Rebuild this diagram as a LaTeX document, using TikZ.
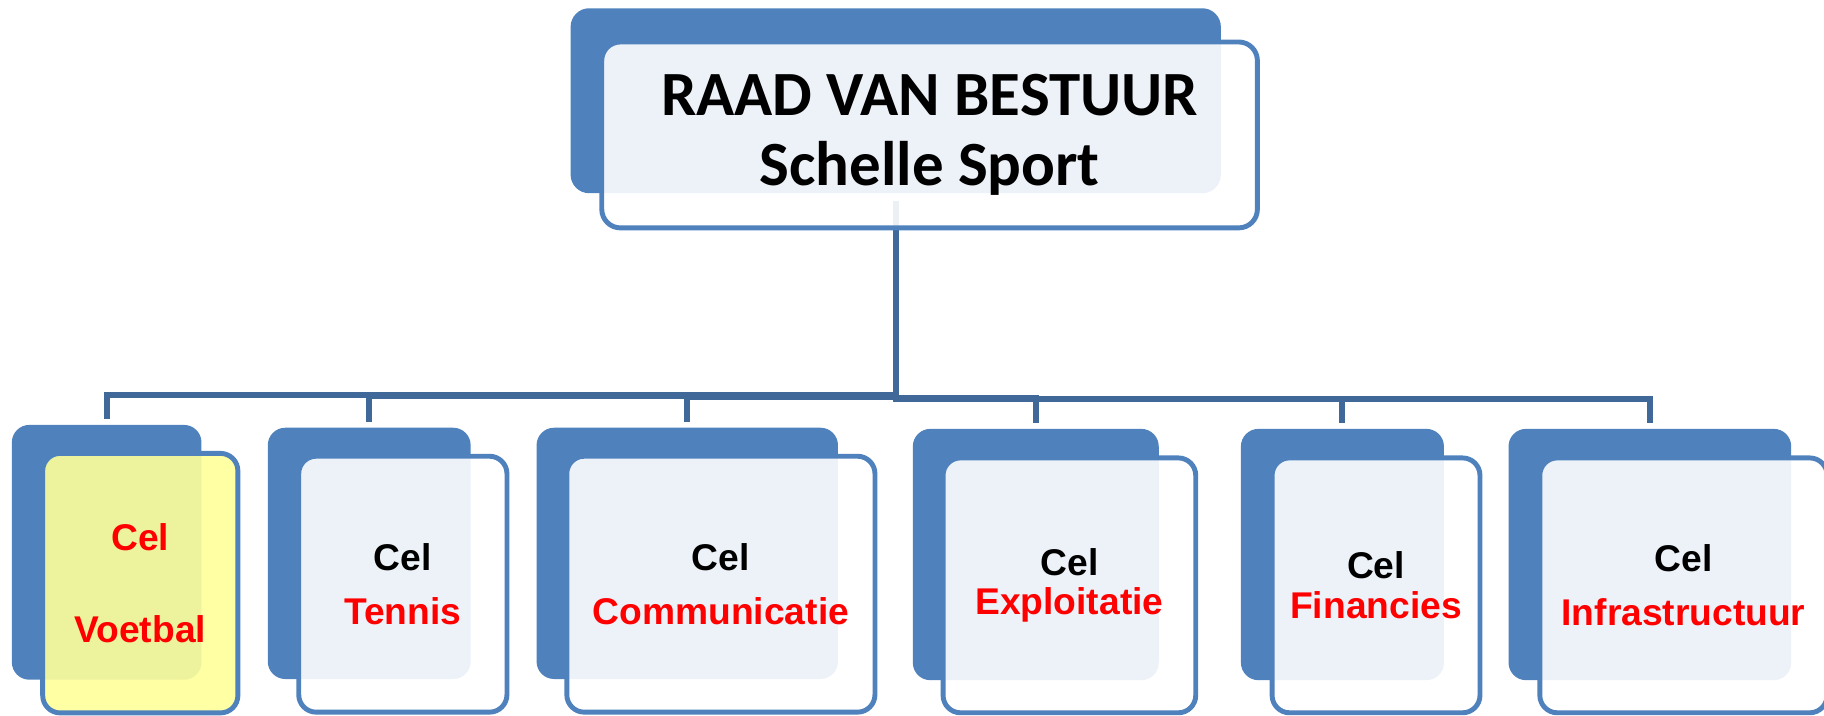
\documentclass[tikz,border=0pt]{standalone}
\usepackage{fontspec}
\setmainfont{Liberation Sans}
\newfontfamily\calibri{Carlito}
\usepackage{tikz}
\usetikzlibrary{positioning}

\definecolor{boxblue}{RGB}{79,129,189}
\definecolor{linkblue}{RGB}{64,104,152}
\definecolor{celred}{RGB}{255,0,0}
\definecolor{paleyellow}{RGB}{255,255,153}

\begin{document}
\begin{tikzpicture}[node distance = 0.265cm and 0.289cm, on grid,
                    back/.style = {rectangle,
                                   rounded corners = 0.15cm,
                                   fill = boxblue,
                                   minimum height = 2.16cm},
                    front/.style = {rectangle,
                                    rounded corners = 0.15cm,
                                    draw = boxblue,
                                    line width = 1.2pt,
                                    fill = white,
                                    fill opacity = 0.9,
                                    text opacity = 1,
                                    align = center,
                                    minimum height = 2.2cm,
                                    font = \fontsize{9.1}{11}\selectfont\bfseries},
                    link/.style = {draw = linkblue,
                                   line width = 1.5pt,
                                   shorten <= 0.06cm,
                                   shorten >= 0.04cm}]

\useasboundingbox (0,0) rectangle (15.68,-6.155);

% back plates
\node[back] (rvbback) [minimum width = 5.59cm, minimum height = 1.59cm,
                       rounded corners = 0.16cm] at (7.70,-0.866) {};
\node[back] (voetbalback)  [minimum width = 1.63cm, minimum height = 2.19cm] at (0.917,-4.748) {};
\node[back] (tennisback)   [minimum width = 1.744cm] at (3.174,-4.757) {};
\node[back] (commback)     [minimum width = 2.591cm] at (5.908,-4.757) {};
\node[back] (exploitback)  [minimum width = 2.114cm] at (8.904,-4.767) {};
\node[back] (financeback)  [minimum width = 1.745cm] at (11.54,-4.767) {};
\node[back] (infraback)    [minimum width = 2.43cm]  at (14.183,-4.767) {};

% connectors
\draw[link] (rvbback.south) -- ++(0,-1.725) -| (voetbalback.north);
\draw[link] (rvbback.south) -- ++(0,-1.735) -| (tennisback.north);
\draw[link] (rvbback.south) -- ++(0,-1.74)  -| (commback.north);
\draw[link] (rvbback.south) -- ++(0,-1.755) -| (exploitback.north);
\draw[link] (rvbback.south) -- ++(0,-1.76)  -| (financeback.north);
\draw[link] (rvbback.south) -- ++(0,-1.765) -| (infraback.north);

% front cards
\node[front] (rvb) [below right = 0.294cm and 0.291cm of rvbback,
                    minimum width = 5.636cm, minimum height = 1.598cm,
                    rounded corners = 0.16cm,
                    font = \calibri\bfseries\fontsize{15.4}{17.1}\selectfont]
      {RAAD VAN BESTUUR\\Schelle Sport};

\node[front] (voetbal) [below right = of voetbalback, fill = paleyellow,
                        minimum width = 1.678cm, minimum height = 2.231cm]
      {\textcolor{celred}{Cel}\\[11.5pt]\textcolor{celred}{Voetbal}};
\node[front] (tennis) [below right = of tennisback, minimum width = 1.79cm]
      {Cel\\[2.1pt]\textcolor{celred}{Tennis}};
\node[front] (comm) [below right = of commback, minimum width = 2.649cm]
      {Cel\\[2.1pt]\textcolor{celred}{Communicatie}};
\node[front] (exploit) [below right = of exploitback, minimum width = 2.172cm,
                        minimum height = 2.191cm]
      {Cel\\[-1.3pt]\textcolor{celred}{Exploitatie}};
\node[front] (finance) [below right = of financeback, minimum width = 1.787cm,
                        minimum height = 2.191cm]
      {Cel\\[-1.3pt]\textcolor{celred}{Financies}};
\node[front] (infra) [below right = of infraback, minimum width = 2.47cm,
                      minimum height = 2.191cm]
      {Cel\\[2.1pt]\textcolor{celred}{Infrastructuur}};

\end{tikzpicture}
\end{document}
